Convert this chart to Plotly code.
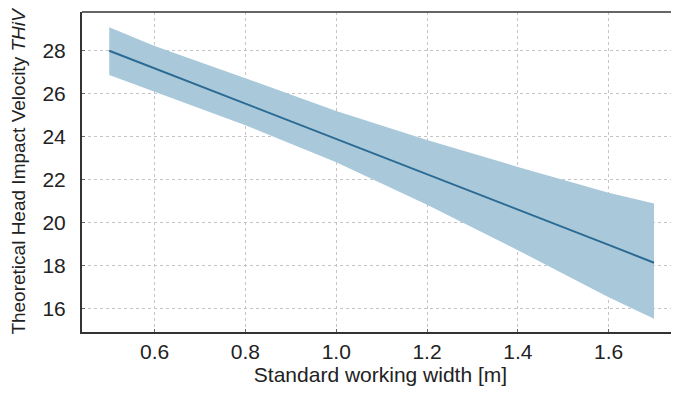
import plotly.graph_objects as go

# Data
width_m = [0.5, 0.6, 0.8, 1.0, 1.2, 1.4, 1.6, 1.7]
thiv_mean = [28.0, 27.18, 25.55, 23.9, 22.29, 20.63, 18.98, 18.15]
thiv_upper = [29.09, 28.22, 26.72, 25.2, 23.85, 22.6, 21.4, 20.9]
thiv_lower = [26.87, 26.1, 24.54, 22.82, 20.84, 18.73, 16.55, 15.55]

x_ticks = [0.6, 0.8, 1.0, 1.2, 1.4, 1.6]
x_ticklabels = ["0.6", "0.8", "1.0", "1.2", "1.4", "1.6"]
y_ticks = [16, 18, 20, 22, 24, 26, 28]

FILL = "#a9c9db"
LINE = "#2b6a93"
FONT = "Liberation Sans, Arial, sans-serif"

fig = go.Figure()
fig.add_trace(go.Scatter(x=width_m, y=thiv_lower, mode="lines",
                         line=dict(width=0, color=FILL), showlegend=False,
                         hoverinfo="skip"))
fig.add_trace(go.Scatter(x=width_m, y=thiv_upper, mode="lines",
                         line=dict(width=0, color=FILL), fill="tonexty",
                         fillcolor=FILL, showlegend=False, hoverinfo="skip"))
fig.add_trace(go.Scatter(x=width_m, y=thiv_mean, mode="lines",
                         line=dict(width=2, color=LINE), showlegend=False))

# page body has an 8px margin, so the figure is sized/offset to compensate
fig.update_layout(
    width=671, height=385,
    margin=dict(l=74, r=0, t=4, b=61),
    paper_bgcolor="white", plot_bgcolor="white",
    font=dict(family=FONT, size=20, color="#222"),
    shapes=[dict(type="line", xref="paper", yref="paper", x0=0, x1=1, y0=1, y1=1,
                 line=dict(color="#333", width=1.5))],
)
fig.update_xaxes(
    range=[0.44, 1.755], tickvals=x_ticks, ticktext=x_ticklabels,
    showgrid=True, gridcolor="#c4c4c4", griddash="dot", gridwidth=1,
    showline=True, linecolor="#333", linewidth=2,
    ticks="inside", ticklen=3, tickcolor="#666", tickwidth=1,
    zeroline=False, tickfont=dict(size=21), automargin=False,
    title=dict(text="Standard working width [m]", font=dict(size=21), standoff=4),
)
fig.update_yaxes(
    range=[14.93, 29.8], tickvals=y_ticks,
    showgrid=True, gridcolor="#c4c4c4", griddash="dot", gridwidth=1,
    showline=True, linecolor="#333", linewidth=2,
    ticks="inside", ticklen=3, tickcolor="#666", tickwidth=1,
    zeroline=False, tickfont=dict(size=21), ticklabelstandoff=10, automargin=False,
    title=dict(text="Theoretical Head Impact Velocity <i>THiV</i>", font=dict(size=19)),
)

fig.write_html("out.html")
